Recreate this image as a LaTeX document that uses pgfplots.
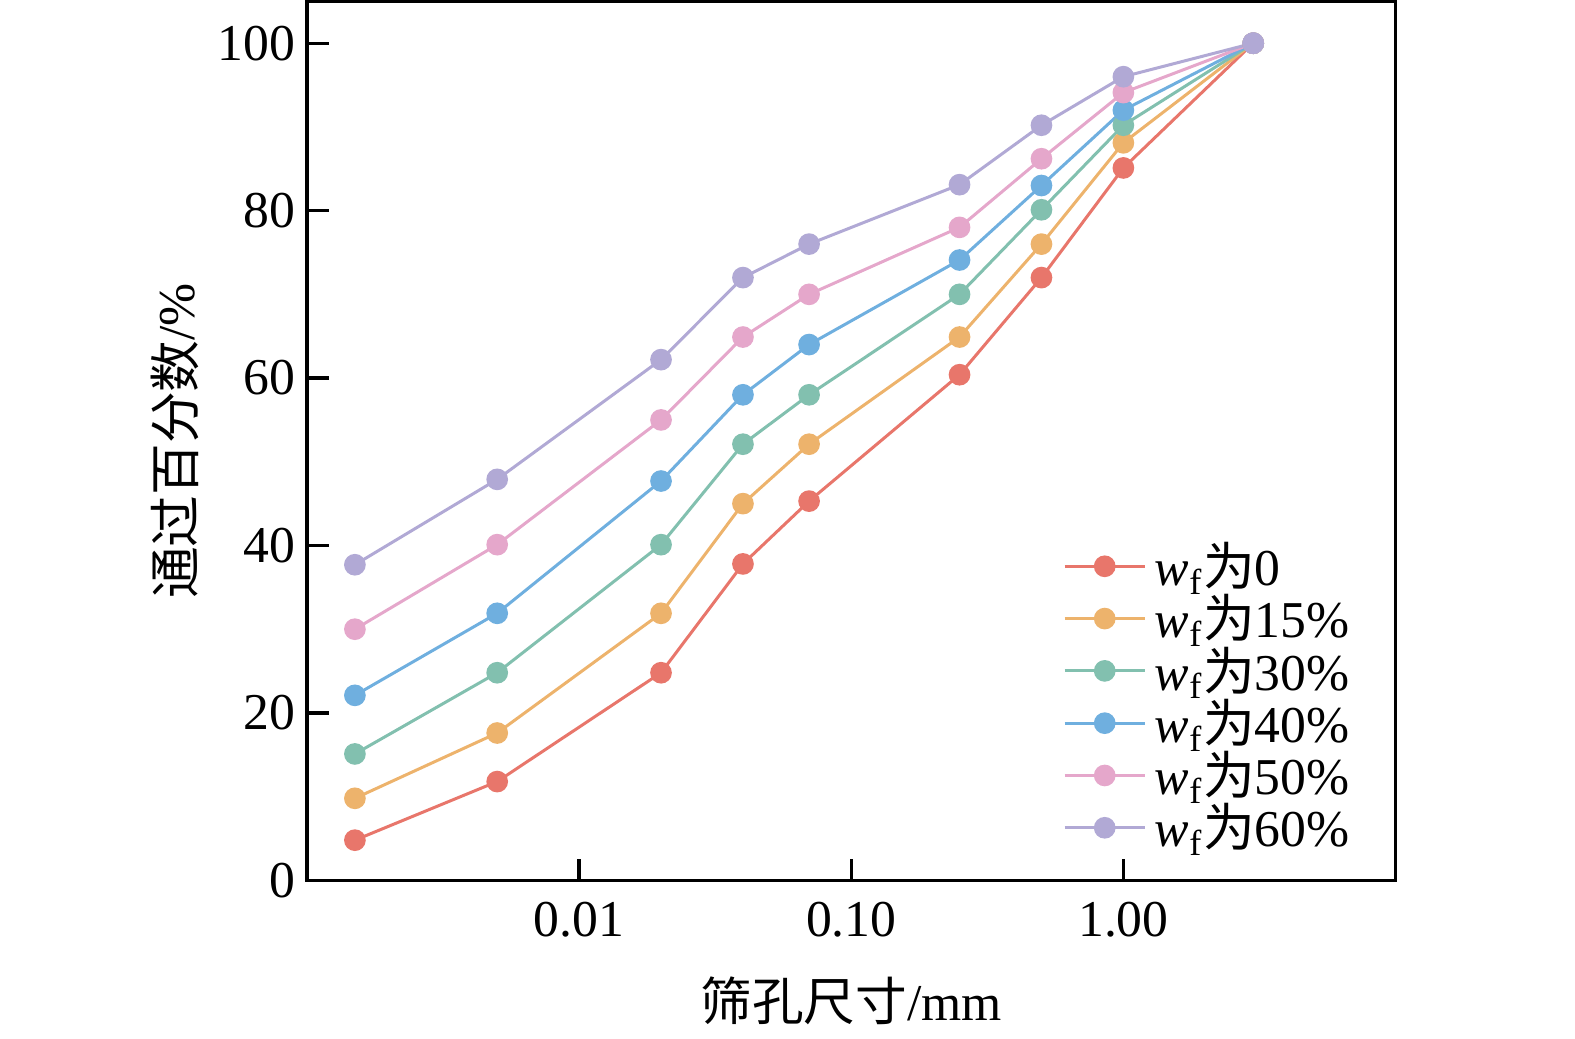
\documentclass[border=0pt]{standalone}
\usepackage{pgfplots}
\pgfplotsset{compat=1.18}
\usepackage{fontspec}
\setmainfont{Liberation Serif}
\newfontfamily\cjk{Noto Sans CJK SC}
\definecolor{c1}{HTML}{E8766B}
\definecolor{c2}{HTML}{EDB36C}
\definecolor{c3}{HTML}{82C0AF}
\definecolor{c4}{HTML}{6FAFDF}
\definecolor{c5}{HTML}{E5A7CB}
\definecolor{c6}{HTML}{B1A9D5}
\newcommand{\wf}{\textit{w}\textsubscript{f}}
\begin{document}
\begin{tikzpicture}
\begin{axis}[
  at={(0,0)}, anchor=south west,
  scale only axis, width=326.55pt, height=263.7pt,
  xmode=log, xmin=0.001, xmax=10,
  ymin=0, ymax=105,
  xtick={0.01,0.1,1}, xticklabels={0.01,0.10,1.00},
  ytick={0,20,40,60,80,100},
  xminorticks=false, yminorticks=false,
  xtick pos=bottom, ytick pos=left,
  tick align=inside, major tick length=6.5pt,
  tick style={black, line width=1pt},
  axis line style={line width=1.1pt},
  font=\fontsize{15.5pt}{18pt}\selectfont,
  /pgf/number format/assume math mode=true,
  ticklabel style={font=\fontsize{15.5pt}{18pt}\selectfont},
  xticklabel style={yshift=-3pt},
  xlabel={{\cjk 筛孔尺寸}/mm},
  ylabel={{\cjk 通过百分数}/\%},
  xlabel style={at={(axis description cs:0.5,0)}, anchor=center, yshift=-36pt},
  ylabel style={at={(axis description cs:-0.1213,0.5)}, anchor=center},
  legend style={draw=none, fill=none, at={(0.688,0.4007)}, anchor=north west,
    font=\fontsize{15.5pt}{18pt}\selectfont, row sep=-2.8pt, inner sep=2pt},
  legend cell align=left,
  legend image code/.code={\draw[#1] (0pt,0pt) -- (24pt,0pt); \fill[#1] (12pt,0pt) circle (2.8pt); \path (24.6pt,0pt);},
  every axis plot/.append style={line width=0.9pt, mark=*, mark size=2.8pt},
]
\addplot[c1, mark options={fill=c1, draw=c1}] coordinates {(0.0015,4.8)(0.005,11.8)(0.02,24.8)(0.04,37.8)(0.07,45.3)(0.25,60.4)(0.5,72.0)(1,85.1)(3,100)};
\addplot[c2, mark options={fill=c2, draw=c2}] coordinates {(0.0015,9.8)(0.005,17.6)(0.02,31.9)(0.04,45.0)(0.07,52.1)(0.25,64.9)(0.5,76.0)(1,88.1)(3,100)};
\addplot[c3, mark options={fill=c3, draw=c3}] coordinates {(0.0015,15.1)(0.005,24.8)(0.02,40.1)(0.04,52.1)(0.07,58.0)(0.25,70.0)(0.5,80.1)(1,90.2)(3,100)};
\addplot[c4, mark options={fill=c4, draw=c4}] coordinates {(0.0015,22.1)(0.005,31.9)(0.02,47.7)(0.04,58.0)(0.07,64.0)(0.25,74.1)(0.5,83.0)(1,92.0)(3,100)};
\addplot[c5, mark options={fill=c5, draw=c5}] coordinates {(0.0015,30.0)(0.005,40.1)(0.02,55.0)(0.04,64.9)(0.07,70.0)(0.25,78.0)(0.5,86.2)(1,94.1)(3,100)};
\addplot[c6, mark options={fill=c6, draw=c6}] coordinates {(0.0015,37.7)(0.005,47.9)(0.02,62.2)(0.04,72.0)(0.07,76.0)(0.25,83.1)(0.5,90.2)(1,96.0)(3,100)};
\legend{\wf{\cjk 为}0,\wf{\cjk 为}15\%,\wf{\cjk 为}30\%,\wf{\cjk 为}40\%,\wf{\cjk 为}50\%,\wf{\cjk 为}60\%}
\end{axis}
\pgfresetboundingbox
\path (-92.1pt,-47.55pt) rectangle (380.4pt,264.1pt);
\end{tikzpicture}
\end{document}
